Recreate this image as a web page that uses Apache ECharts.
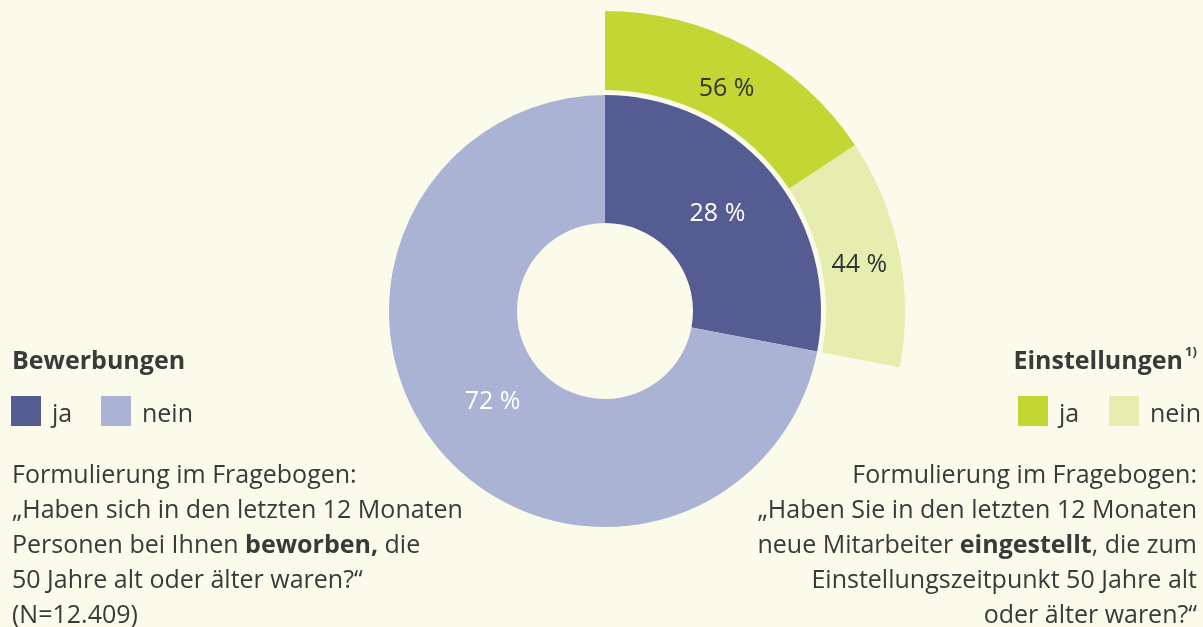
<!DOCTYPE html>
<html>
<head>
<meta charset="utf-8">
<script src="https://cdn.jsdelivr.net/npm/echarts@6/dist/echarts.min.js"></script>
<style>
  html, body { margin: 0; padding: 0; background: #fafbeb; }
  #chart { width: 1203px; height: 627px; }
</style>
</head>
<body>
<div id="chart"></div>
<script>
// inner ring: Bewerbungen (applications), outer ring: Einstellungen (hirings) within "ja"
const answerLabels = ['ja', 'nein']
const bewerbungenValues = [28, 72]
const einstellungenValues = [56, 44]

const bewerbungenColors = ['#555c91', '#aab3d4']
const einstellungenColors = ['#c2d634', '#e5edaf']

const leftTitle = 'Bewerbungen'
const rightTitle = 'Einstellungen'
const leftNote = [
  'Formulierung im Fragebogen:',
  '„Haben sich in den letzten 12 Monaten',
  'Personen bei Ihnen {b|beworben,} die',
  '50 Jahre alt oder älter waren?“',
  '(N=12.409)',
]
const rightNote = [
  'Formulierung im Fragebogen:',
  '„Haben Sie in den letzten 12 Monaten',
  'neue Mitarbeiter {b|eingestellt}, die zum',
  'Einstellungszeitpunkt 50 Jahre alt',
  'oder älter waren?“',
]

const FONT = '"Open Sans", "Noto Sans", sans-serif'
const TEXT = '#3a3a3a'
const CENTER = [605, 311]
// small nudges so the labels sit where the original placed them
const innerLabelOffsets = [[-7, 2], [7, -8]]
const outerLabelOffsets = [[-3, 10], [-4, 6]]

const chart = echarts.init(document.getElementById('chart'), null, { renderer: 'canvas' })

const toPieData = (values, colors, offsets) =>
  values.map((v, i) => ({
    name: answerLabels[i],
    value: v,
    itemStyle: { color: colors[i] },
    label: { offset: offsets[i] },
  }))

// outer ring only spans the "ja" share of the inner ring
const outerEnd = 90 - 360 * bewerbungenValues[0] / 100

const legendItems = (x, colors, step) => {
  const items = []
  answerLabels.forEach((lab, i) => {
    const sx = x + step * i
    items.push({
      type: 'rect',
      shape: { x: sx, y: 396, width: 30, height: 30 },
      style: { fill: colors[i] },
    })
    items.push({
      type: 'text',
      x: sx + 41,
      y: 402,
      style: { text: lab, font: '25px ' + FONT, fill: TEXT, verticalAlign: 'top' },
    })
  })
  return items
}

const noteLines = (lines, x, align) =>
  lines.map((line, i) => ({
    type: 'text',
    x: x,
    y: 463 + 35 * i,
    style: {
      text: line,
      font: '25px ' + FONT,
      fill: TEXT,
      align: align,
      verticalAlign: 'top',
      rich: {
        b: { fontFamily: FONT, fontSize: 25, fontWeight: 'bold', fill: TEXT },
      },
    },
  }))

chart.setOption({
  backgroundColor: '#fafbeb',
  animation: false,
  series: [
    {
      type: 'pie',
      name: 'Bewerbungen',
      center: CENTER,
      radius: [88, 216],
      startAngle: 90,
      clockwise: true,
      silent: true,
      label: {
        show: true,
        position: 'inside',
        formatter: '{c} %',
        color: '#ffffff',
        fontFamily: FONT,
        fontSize: 25,
      },
      labelLine: { show: false },
      emphasis: { disabled: true },
      data: toPieData(bewerbungenValues, bewerbungenColors, innerLabelOffsets),
    },
    {
      type: 'pie',
      name: 'Einstellungen',
      center: CENTER,
      radius: [221, 300],
      startAngle: 90,
      endAngle: outerEnd,
      clockwise: true,
      silent: true,
      label: {
        show: true,
        position: 'inside',
        formatter: '{c} %',
        color: '#333333',
        fontFamily: FONT,
        fontSize: 25,
      },
      labelLine: { show: false },
      emphasis: { disabled: true },
      data: toPieData(einstellungenValues, einstellungenColors, outerLabelOffsets),
    },
  ],
  graphic: [
    {
      type: 'text',
      x: 12,
      y: 349,
      style: { text: leftTitle, font: 'bold 25px ' + FONT, fill: TEXT, verticalAlign: 'top' },
    },
    {
      type: 'text',
      x: 1183,
      y: 349,
      style: { text: rightTitle, font: 'bold 25px ' + FONT, fill: TEXT, align: 'right', verticalAlign: 'top' },
    },
    {
      type: 'text',
      x: 1185,
      y: 346,
      style: { text: '1)', font: 'bold 13px ' + FONT, fill: TEXT, align: 'left', verticalAlign: 'top' },
    },
    ...legendItems(11, bewerbungenColors, 90),
    ...legendItems(1018, einstellungenColors, 91),
    ...noteLines(leftNote, 12, 'left'),
    ...noteLines(rightNote, 1197, 'right'),
  ],
})
</script>
</body>
</html>
